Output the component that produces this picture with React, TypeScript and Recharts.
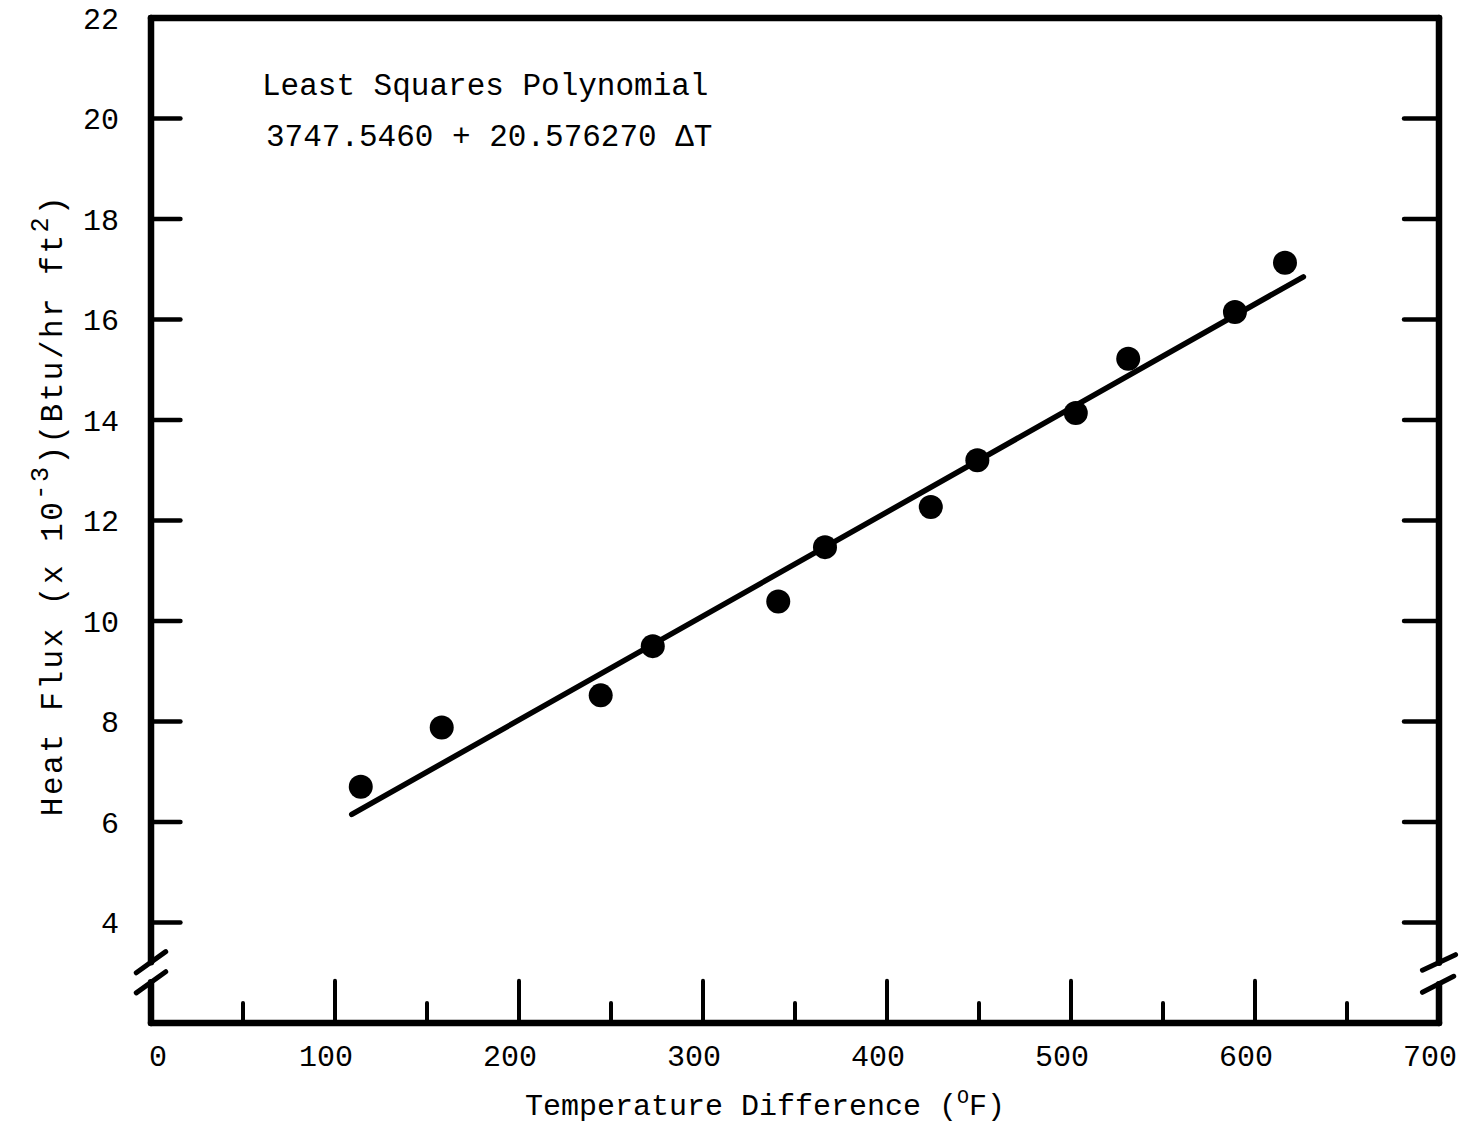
import React from "react";
import { ComposedChart, Scatter, Line, XAxis, YAxis, ReferenceLine } from "recharts";

// measured points (deg F, Btu/hr ft2 x 10^-3)
const deltaT = [114, 158, 244.4, 272.7, 340.9, 366.3, 423.8, 449.1, 502.6, 531.1, 589.1, 616.3];
const heatFlux = [6.7, 7.88, 8.52, 9.5, 10.39, 11.47, 12.27, 13.2, 14.14, 15.22, 16.15, 17.13];

// least squares line, ends as drawn
const fitT = [109.1, 626.3];
const fitFlux = [6.15, 16.85];

const xLabels = [0, 100, 200, 300, 400, 500, 600, 700];
const yLabels = [4, 6, 8, 10, 12, 14, 16, 18, 20, 22];
const yTickMarks = [4, 6, 8, 10, 12, 14, 16, 18, 20];
const xMajorMarks = [100, 200, 300, 400, 500, 600];
const xMinorMarks = [50, 150, 250, 350, 450, 550, 650];

const FONT = "'Liberation Mono', 'Courier New', monospace";
const INK = "#000";

const points = deltaT.map((t, i) => ({ x: t, y: heatFlux[i] }));
const fit = fitT.map((t, i) => ({ x: t, y: fitFlux[i] }));

const seg = (key: string, x1: number, y1: number, x2: number, y2: number, w: number) => (
  <ReferenceLine
    key={key}
    segment={[{ x: x1, y: y1 }, { x: x2, y: y2 }]}
    stroke={INK}
    strokeWidth={w}
    strokeLinecap="round"
    ifOverflow="visible"
  />
);

const Dot = (props: any) => <circle cx={props.cx} cy={props.cy} r={12} fill={INK} />;

// typed labels sit a little left of their ticks, except the 0
const XTick = (props: any) => {
  const { x, y, payload } = props;
  const dx = payload.value === 0 ? 7 : -9;
  return (
    <text x={x + dx} y={y} dy="0.71em" textAnchor="middle" fontFamily={FONT} fontSize={30} fill={INK}>
      {payload.value}
    </text>
  );
};

const XTitle = () => (
  <text x={765} y={1115} textAnchor="middle" fontFamily={FONT} fontSize={30} fill={INK}>
    Temperature Difference (
    <tspan fontSize={20} dy={-12}>O</tspan>
    <tspan dy={12}>F)</tspan>
  </text>
);

const YTitle = () => (
  <text
    x={0}
    y={0}
    transform="translate(62, 505) rotate(-90)"
    textAnchor="middle"
    fontFamily={FONT}
    fontSize={31}
    letterSpacing={2.5}
    fill={INK}
  >
    Heat Flux (x 10
    <tspan fontSize={25} dy={-14}>-3</tspan>
    <tspan dy={14}>)(Btu/hr ft</tspan>
    <tspan fontSize={25} dy={-14}>2</tspan>
    <tspan dy={14}>)</tspan>
  </text>
);

export default function App() {
  return (
    <div style={{ position: "absolute", left: 0, top: 0, width: 1460, height: 1125, background: "#fff" }}>
      <ComposedChart width={1460} height={1125} margin={{ top: 18, right: 21, left: 0, bottom: 0 }}>
        <XAxis
          type="number"
          dataKey="x"
          domain={[0, 700]}
          ticks={xLabels}
          interval={0}
          allowDataOverflow
          axisLine={false}
          tickLine={false}
          tickSize={0}
          tickMargin={22}
          height={102}
          tick={XTick}
          label={{ content: XTitle }}
        />
        <YAxis
          type="number"
          dataKey="y"
          domain={[2, 22]}
          ticks={yLabels}
          interval={0}
          allowDataOverflow
          axisLine={false}
          tickLine={false}
          tickSize={0}
          tickMargin={32}
          width={151}
          tick={{ fill: INK, fontSize: 30, fontFamily: FONT }}
          label={{ content: YTitle }}
        />

        {/* frame, split at the axis breaks */}
        {seg("top", 0, 22, 700, 22, 6.5)}
        {seg("bottom", 0, 2, 700, 2, 6.5)}
        {seg("left-a", 0, 22, 0, 3.21, 6.5)}
        {seg("left-b", 0, 2.81, 0, 2, 6.5)}
        {seg("right-a", 700, 22, 700, 3.2, 6.5)}
        {seg("right-b", 700, 2.77, 700, 2, 6.5)}
        {seg("brk-l1", -8, 3.0, 8, 3.42, 5)}
        {seg("brk-l2", -8, 2.6, 8, 3.02, 5)}
        {seg("brk-r1", 691, 3.05, 709, 3.36, 5)}
        {seg("brk-r2", 691, 2.61, 708, 2.93, 5)}

        {yTickMarks.map((v) => seg(`yl${v}`, 0, v, 16, v, 4.5))}
        {yTickMarks.map((v) => seg(`yr${v}`, 700, v, 681, v, 4.5))}
        {xMajorMarks.map((v) => seg(`xM${v}`, v, 2, v, 2.84, 4))}
        {xMinorMarks.map((v) => seg(`xm${v}`, v, 2, v, 2.4, 4))}

        <Line
          data={fit}
          dataKey="y"
          stroke={INK}
          strokeWidth={5.5}
          strokeLinecap="round"
          dot={false}
          activeDot={false}
          isAnimationActive={false}
        />
        <Scatter data={points} fill={INK} shape={Dot} isAnimationActive={false} />
      </ComposedChart>

      <div style={{ position: "absolute", left: 262, top: 61, fontFamily: FONT, fontSize: 31, lineHeight: "51px", whiteSpace: "pre", color: INK }}>
        Least Squares Polynomial
      </div>
      <div style={{ position: "absolute", left: 266, top: 112, fontFamily: FONT, fontSize: 31, lineHeight: "51px", whiteSpace: "pre", color: INK }}>
        3747.5460 + 20.576270 ΔT
      </div>
    </div>
  );
}
